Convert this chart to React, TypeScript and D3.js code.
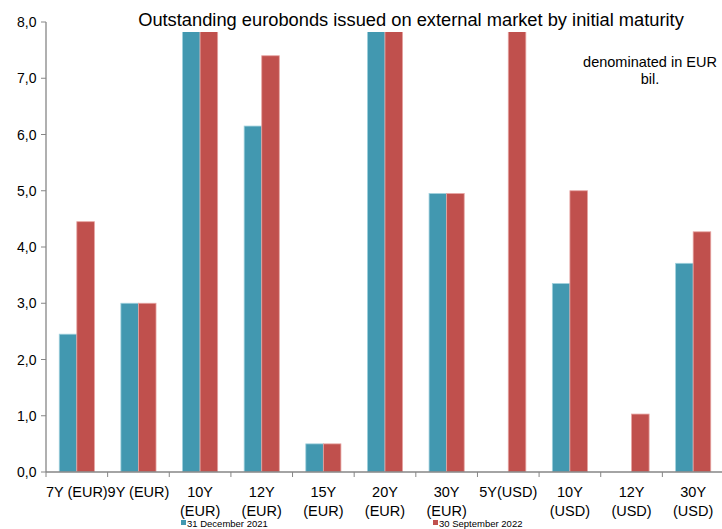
import React from "react";
import * as d3 from "d3";

const categories = [
  ["7Y (EUR)"], ["9Y (EUR)"], ["10Y", "(EUR)"], ["12Y", "(EUR)"], ["15Y", "(EUR)"],
  ["20Y", "(EUR)"], ["30Y", "(EUR)"], ["5Y(USD)"], ["10Y", "(USD)"], ["12Y", "(USD)"], ["30Y", "(USD)"],
];
const dec2021 = [2.45, 3.0, 10.5, 6.15, 0.5, 10.5, 4.95, 0, 3.35, 0, 3.71];
const sep2022 = [4.45, 3.0, 10.5, 7.4, 0.5, 10.5, 4.95, 10.5, 5.0, 1.03, 4.27];
const seriesNames = ["31 December 2021", "30 September 2022"];
const yTicks = [0, 1, 2, 3, 4, 5, 6, 7, 8];

const W = 722, H = 529;
const left = 46, right = 724, top = 22, bottom = 472;
const colors = ["#4298B0", "#C0504D"];
const strokes = ["#9fd0dd", "#e6a3a1"];
const font = "'Liberation Sans', Arial, sans-serif";

export default function App() {
  const x = d3.scaleBand<number>().domain(d3.range(categories.length)).range([left, right]).paddingInner(0).paddingOuter(0);
  const y = d3.scaleLinear().domain([0, 8]).range([bottom, top]);
  const bw = x.bandwidth();
  const barW = bw * 0.285;
  const series = [dec2021, sep2022];
  const clipTop = 32;
  return (
    <svg width={W} height={H} style={{ position: "absolute", left: 0, top: 0, background: "#fff" }} fontFamily={font}>
      <defs>
        <clipPath id="plotclip">
          <rect x={left} y={clipTop} width={right - left} height={bottom - clipTop} />
        </clipPath>
      </defs>
      <text x={411} y={26} textAnchor="middle" fontSize={18.3} fill="#000">
        Outstanding eurobonds issued on external market by initial maturity
      </text>
      <text x={650} y={67} textAnchor="middle" fontSize={14.5} fill="#000">denominated in EUR</text>
      <text x={650} y={84} textAnchor="middle" fontSize={14.5} fill="#000">bil.</text>
      <g clipPath="url(#plotclip)">
        {series.map((s, si) =>
          s.map((v, i) => {
            if (v <= 0) return null;
            const cx = (x(i) as number) + bw / 2;
            const bx = cx - barW + si * barW;
            return (
              <rect key={si + "-" + i} x={bx} y={y(v)} width={barW} height={bottom - y(v)}
                fill={colors[si]} stroke={strokes[si]} strokeWidth={0.8} />
            );
          })
        )}
      </g>
      <line x1={left} x2={left} y1={top} y2={bottom} stroke="#868686" strokeWidth={1.3} />
      <line x1={left} x2={W} y1={bottom} y2={bottom} stroke="#868686" strokeWidth={1.3} />
      {yTicks.map((t) => (
        <g key={t}>
          <line x1={left - 5} x2={left} y1={y(t)} y2={y(t)} stroke="#868686" />
          <text x={36.5} y={y(t) + 5} textAnchor="end" fontSize={14} fill="#000">
            {d3.format(".1f")(t).replace(".", ",")}
          </text>
        </g>
      ))}
      {d3.range(categories.length + 1).map((i) => {
        const tx = left + i * bw;
        return <line key={i} x1={tx} x2={tx} y1={bottom} y2={bottom + 5} stroke="#868686" />;
      })}
      {categories.map((lines, i) => {
        const cx = (x(i) as number) + bw / 2;
        return (
          <text key={i} x={cx} textAnchor="middle" fontSize={14.5} fill="#000">
            {lines.map((l, li) => (
              <tspan key={li} x={cx} y={497 + li * 18.5}>{l}</tspan>
            ))}
          </text>
        );
      })}
      <rect x={181} y={520} width={5} height={5} fill={colors[0]} />
      <text x={187} y={527} fontSize={9.5} fill="#000">{seriesNames[0]}</text>
      <rect x={433} y={520} width={5} height={5} fill={colors[1]} />
      <text x={439} y={527} fontSize={9.5} fill="#000">{seriesNames[1]}</text>
    </svg>
  );
}
